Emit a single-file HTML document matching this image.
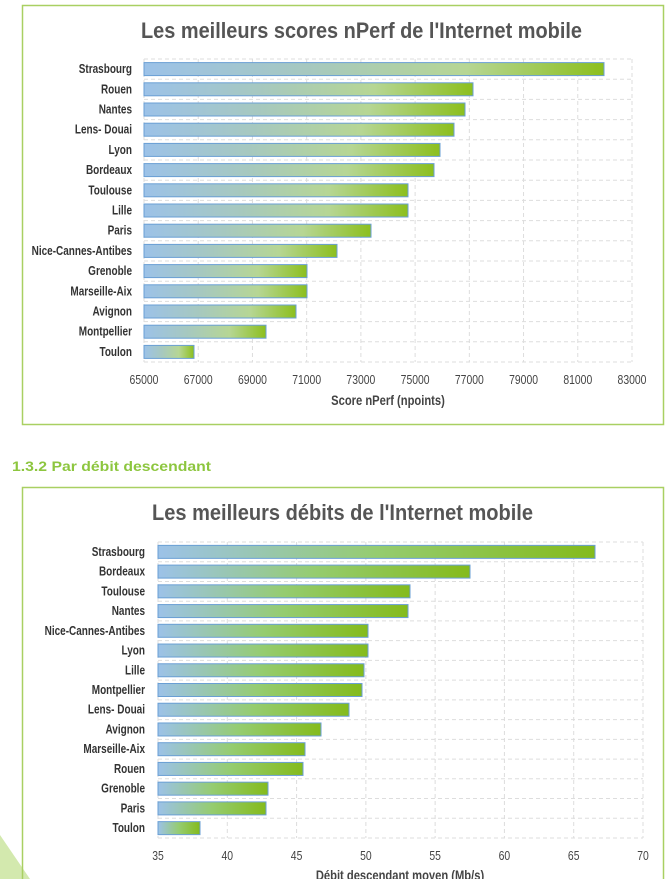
<!DOCTYPE html>
<html><head><meta charset="utf-8"><style>
html,body{margin:0;padding:0;background:#fff;width:671px;height:879px;overflow:hidden}
svg{display:block}
text{font-family:"Liberation Sans",sans-serif}
</style></head><body>
<svg width="671" height="879" viewBox="0 0 671 879" xmlns="http://www.w3.org/2000/svg">
<defs>
<linearGradient id="g" x1="0" x2="1" y1="0" y2="0">
<stop offset="0" stop-color="#9cc2e8"/>
<stop offset="0.35" stop-color="#a6c8c0"/>
<stop offset="0.7" stop-color="#b6d694"/>
<stop offset="1" stop-color="#8cbf1e"/>
</linearGradient>
<linearGradient id="g2" x1="0" x2="1" y1="0" y2="0">
<stop offset="0" stop-color="#9cc2e8"/>
<stop offset="0.5" stop-color="#95cc70"/>
<stop offset="1" stop-color="#84bb1c"/>
</linearGradient>
</defs>
<polygon points="0,835 0,879 30,879" fill="#c8e39a" opacity="0.8"/>
<rect x="22.5" y="5.5" width="641" height="419" fill="none" stroke="#a9d062" stroke-width="1.5"/>
<rect x="22.5" y="487.5" width="641" height="400" fill="none" stroke="#a9d062" stroke-width="1.5"/>
<text x="141" y="38" font-size="22" font-weight="bold" fill="#555" textLength="441" lengthAdjust="spacingAndGlyphs">Les meilleurs scores nPerf de l'Internet mobile</text>
<g id="c1"></g>
<text x="12" y="471" font-size="14" font-weight="bold" fill="#8dc63f" textLength="199" lengthAdjust="spacingAndGlyphs">1.3.2  Par débit descendant</text>
<text x="152" y="520" font-size="22" font-weight="bold" fill="#555" textLength="381" lengthAdjust="spacingAndGlyphs">Les meilleurs débits de l'Internet mobile</text>
<g id="c2"></g>
</svg>
<script>
function tx(x,y,anchor,size,w,fill,str){
 return '<text transform="translate('+x+','+y+') scale(0.8,1)" text-anchor="'+anchor+'" font-size="'+size+'" font-weight="'+w+'" fill="'+fill+'">'+str+'</text>';
}
function chart(id,o){
 var g=document.getElementById(id),s='';
 var L=o.x0,R=o.x1,T=o.top,B=o.bot,n=o.names.length,st=(B-T)/n;
 for(var i=0;i<=n;i++){var y=T+i*st;s+='<line x1="'+L+'" x2="'+R+'" y1="'+y+'" y2="'+y+'" stroke="#ddd" stroke-dasharray="4,3"/>';}
 for(var j=0;j<o.ticks.length;j++){var x=L+(R-L)*j/(o.ticks.length-1);
  s+='<line x1="'+x+'" x2="'+x+'" y1="'+T+'" y2="'+B+'" stroke="#ddd" stroke-dasharray="4,3"/>';
  s+=tx(x,o.ty,'middle',13,'normal','#444',o.ticks[j]);}
 for(var i=0;i<n;i++){var cy=T+st*(i+0.5);
  s+='<rect x="'+L+'" y="'+(cy-6.5)+'" width="'+(o.ends[i]-L)+'" height="13" fill="url(#'+o.grad+')" stroke="#6a9fd4" stroke-width="1"/>';
  s+=tx(o.lx,cy+4,'end',12.5,'bold','#333',o.names[i]);}
 s+=tx(o.axx,o.axy,'middle',14,'bold','#444',o.axis);
 g.innerHTML=s;
}
chart('c1',{x0:144,x1:632,top:59,bot:362,lx:132,ty:384,axx:388,axy:405,axis:'Score nPerf (npoints)',grad:'g',
 ticks:['65000','67000','69000','71000','73000','75000','77000','79000','81000','83000'],
 names:['Strasbourg','Rouen','Nantes','Lens- Douai','Lyon','Bordeaux','Toulouse','Lille','Paris','Nice-Cannes-Antibes','Grenoble','Marseille-Aix','Avignon','Montpellier','Toulon'],
 ends:[604,473,465,454,440,434,408,408,371,337,307,307,296,266,194]});
chart('c2',{x0:158,x1:643,top:542,bot:838,lx:145,ty:860,axx:400,axy:880,axis:'Débit descendant moyen (Mb/s)',grad:'g2',
 ticks:['35','40','45','50','55','60','65','70'],
 names:['Strasbourg','Bordeaux','Toulouse','Nantes','Nice-Cannes-Antibes','Lyon','Lille','Montpellier','Lens- Douai','Avignon','Marseille-Aix','Rouen','Grenoble','Paris','Toulon'],
 ends:[595,470,410,408,368,368,364,362,349,321,305,303,268,266,200]});
</script>
</body></html>
